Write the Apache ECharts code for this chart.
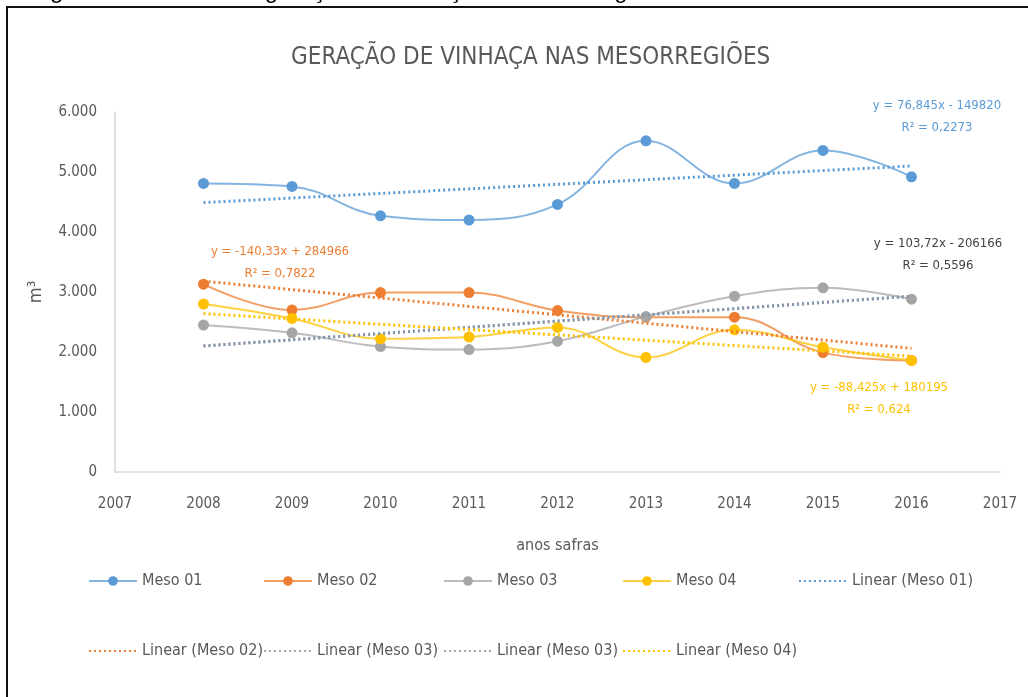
<!DOCTYPE html>
<html>
<head>
<meta charset="utf-8">
<script src="https://cdn.jsdelivr.net/npm/echarts@6/dist/echarts.min.js"></script>
<style>
  html, body { margin: 0; padding: 0; background: #fff; }
  #chart { width: 1028px; height: 697px; }
</style>
</head>
<body>
<div id="chart"></div>
<script>
const years = [2008, 2009, 2010, 2011, 2012, 2013, 2014, 2015, 2016]
const meso01 = [4810, 4760, 4270, 4200, 4460, 5520, 4810, 5360, 4920]
const meso02 = [3130, 2700, 2990, 2990, 2690, 2580, 2580, 1990, 1860]
const meso03 = [2450, 2320, 2090, 2040, 2180, 2590, 2930, 3070, 2880]
const meso04 = [2800, 2560, 2220, 2250, 2410, 1910, 2370, 2080, 1860]

// trend lines read at 2008 and 2016
const trendYears = [2008, 2016]
const trend01 = [4490, 5100]
const trend02 = [3180, 2060]
const trend03 = [2100, 2930]
const trend04 = [2640, 1930]

const trendLabels = [
  ['y = 76,845x - 149820', 'R² = 0,2273'],
  ['y = -140,33x + 284966', 'R² = 0,7822'],
  ['y = 103,72x - 206166', 'R² = 0,5596'],
  ['y = -88,425x + 180195', 'R² = 0,624']
]

const legendRow1 = ['Meso 01', 'Meso 02', 'Meso 03', 'Meso 04', 'Linear (Meso 01)']
const legendRow2 = ['Linear (Meso 02)', 'Linear (Meso 03)', 'Linear (Meso 03)', 'Linear (Meso 04)']

const FONT = '"Liberation Sans Narrow", "DejaVu Sans Condensed", sans-serif'
const TEXT = '#595959'
const colors = ['#5b9bd5', '#ed7d31', '#a5a5a5', '#ffc000']

const pairs = (xs, ys) => xs.map((x, i) => [x, ys[i]])
const fmt = v => String(v).replace(/\B(?=(\d{3})+(?!\d))/g, '.')

const mesoSeries = (name, values, color) => ({
  name,
  type: 'line',
  smooth: 0.4,
  data: pairs(years, values),
  symbol: 'circle',
  symbolSize: 11,
  itemStyle: { color },
  lineStyle: { color, width: 2, opacity: 0.75 },
  z: 3
})

const trendSeries = (name, values, color) => ({
  name,
  type: 'line',
  data: pairs(trendYears, values),
  symbol: 'none',
  itemStyle: { color },
  lineStyle: { color, width: 3, type: [2, 3] },
  z: 4
})

const legendCols = [88, 263, 443, 622, 798]
const legendItem = (name, col, top) => {
  const trend = name.startsWith('Linear')
  return {
    data: [name],
    left: legendCols[col],
    top,
    padding: 0,
    itemWidth: 48,
    itemHeight: 12,
    itemStyle: trend ? { opacity: 0 } : {},
    textStyle: { color: TEXT, fontFamily: FONT, fontSize: 16 },
    selectedMode: false
  }
}

const labelText = (lines, x, y, color) => ({
  type: 'text',
  x,
  y,
  style: {
    text: lines.join('\n'),
    fill: color,
    font: '13px ' + FONT,
    align: 'center',
    verticalAlign: 'middle',
    lineHeight: 22
  }
})

const chart = echarts.init(document.getElementById('chart'))
chart.setOption({
  animation: false,
  title: {
    text: 'GERAÇÃO DE VINHAÇA NAS MESORREGIÕES',
    left: 286,
    top: 41,
    textStyle: { color: TEXT, fontFamily: FONT, fontSize: 24, fontWeight: 'normal' }
  },
  grid: { left: 115, right: 28, top: 112, bottom: 225 },
  xAxis: {
    type: 'value',
    min: 2007,
    max: 2017,
    interval: 1,
    name: 'anos safras',
    nameLocation: 'middle',
    nameGap: 66,
    nameTextStyle: { color: TEXT, fontFamily: FONT, fontSize: 16 },
    axisLine: { lineStyle: { color: '#d9d9d9', width: 1.5 } },
    axisTick: { show: false },
    splitLine: { show: false },
    axisLabel: { color: TEXT, fontFamily: FONT, fontSize: 15, margin: 25, formatter: v => String(v) }
  },
  yAxis: {
    type: 'value',
    min: 0,
    max: 6000,
    interval: 1000,
    name: 'm³',
    nameLocation: 'middle',
    nameGap: 70,
    nameRotate: 90,
    nameTextStyle: { color: TEXT, fontFamily: FONT, fontSize: 18 },
    axisLine: { show: true, lineStyle: { color: '#d9d9d9', width: 1.5 } },
    axisTick: { show: false },
    splitLine: { show: false },
    axisLabel: { color: TEXT, fontFamily: FONT, fontSize: 15, margin: 18, formatter: fmt }
  },
  legend: [
    ...legendRow1.map((n, i) => legendItem(n, i, 573)),
    ...legendRow2.map((n, i) => legendItem(n, i, 643))
  ],
  graphic: [
    {
      type: 'rect',
      shape: { x: 7, y: 7, width: 1060, height: 720 },
      style: { fill: 'none', stroke: '#111', lineWidth: 2 }
    },
    {
      type: 'text',
      x: 30,
      y: 3,
      style: {
        text: 'Figura 5 – Volume de geração de vinhaça nas mesorregiões',
        fill: '#000',
        font: '24px "Liberation Sans", sans-serif',
        verticalAlign: 'bottom'
      }
    },
    labelText(trendLabels[0], 937, 117, colors[0]),
    labelText(trendLabels[1], 280, 263, colors[1]),
    labelText(trendLabels[2], 938, 255, '#404040'),
    labelText(trendLabels[3], 879, 399, colors[3])
  ],
  series: [
    mesoSeries('Meso 01', meso01, colors[0]),
    mesoSeries('Meso 02', meso02, colors[1]),
    mesoSeries('Meso 03', meso03, colors[2]),
    mesoSeries('Meso 04', meso04, colors[3]),
    trendSeries('Linear (Meso 01)', trend01, colors[0]),
    trendSeries('Linear (Meso 02)', trend02, colors[1]),
    trendSeries('Linear (Meso 03)', trend03, colors[2]),
    trendSeries('Linear (Meso 03)', trend03, '#8497b0'),
    trendSeries('Linear (Meso 04)', trend04, colors[3])
  ]
})
</script>
</body>
</html>
